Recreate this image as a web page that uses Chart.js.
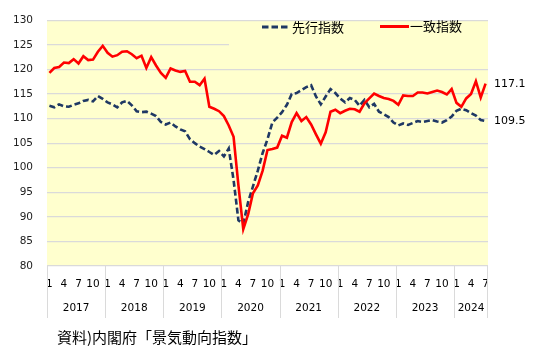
<!DOCTYPE html>
<html><head><meta charset="utf-8">
<script src="https://cdn.jsdelivr.net/npm/chart.js@4"></script>
<style>
html,body{margin:0;padding:0;background:#fff;}
#wrap{position:relative;width:534px;height:356px;}
#src{position:absolute;left:57px;top:327px;font-family:"Noto Sans CJK JP";font-size:15px;line-height:20px;color:#000;white-space:nowrap;}
</style></head><body>
<div id="wrap"><canvas id="c" width="534" height="356"></canvas><div id="src">資料)内閣府「景気動向指数」</div></div>
<script>
// ---- data ----
const years = ['2017','2018','2019','2020','2021','2022','2023','2024'];
const monthsInYear = [12,12,12,12,12,12,12,7];
const tickMonths = ['1','4','7','10'];
const seriesNames = ['先行指数','一致指数'];

const leading = [
  112.6,112.3,112.9,112.5,112.4,112.8,113.1,113.6,113.8,113.5,114.6,114.0,
  113.3,112.9,112.3,113.3,113.6,112.7,111.5,111.3,111.4,111.0,110.5,109.3,
  108.8,109.2,108.4,107.8,107.4,105.8,105.0,104.3,103.8,103.2,102.6,103.4,
  102.3,103.9,97.5,89.3,88.6,93.0,96.2,99.4,103.0,105.8,109.2,110.2,
  111.3,112.8,115.0,115.2,115.8,116.4,116.8,114.5,112.9,114.5,116.0,115.2,
  114.1,113.3,114.2,113.8,112.6,113.8,112.3,113.0,111.4,110.9,110.3,109.2,
  108.6,109.0,108.7,109.1,109.5,109.3,109.5,109.7,109.4,109.2,109.7,110.4,
  111.6,112.0,111.7,111.1,110.6,109.7,109.5
];
const coincident = [
  119.3,120.3,120.5,121.4,121.3,122.1,121.2,122.7,121.9,122.0,123.6,124.8,
  123.4,122.6,122.9,123.6,123.7,123.1,122.3,122.8,120.3,122.5,120.8,119.3,
  118.3,120.2,119.8,119.5,119.7,117.5,117.5,116.8,118.1,112.4,112.0,111.5,
  110.5,108.6,106.3,96.4,87.5,90.5,94.8,96.4,99.4,103.6,103.8,104.1,
  106.5,106.1,109.3,111.1,109.5,110.3,108.8,106.8,104.9,107.2,111.4,111.8,
  111.1,111.6,112.0,111.9,111.4,113.1,114.1,115.1,114.6,114.2,114.0,113.6,
  112.8,114.7,114.6,114.6,115.3,115.3,115.1,115.4,115.7,115.4,114.9,116.0,
  113.2,112.4,114.1,115.0,117.6,114.3,117.1
];

// ---- categories ----
const categories = [];
const monthOf = [];
years.forEach((y, yi) => {
  for (let m = 1; m <= monthsInYear[yi]; m++) { categories.push(y + '/' + m); monthOf.push(String(m)); }
});

const NAVY = '#1F3864', RED = '#FF0000', BG = '#FFFFCE', GRID = '#DADADA';
const tickFont = {family: 'DejaVu Sans', size: 10.5};

const plugins = [{
  id: 'bg',
  beforeDraw(chart) {
    const {ctx, chartArea: a} = chart;
    ctx.save(); ctx.fillStyle = BG; ctx.fillRect(a.left, a.top, a.right - a.left, a.bottom - a.top); ctx.restore();
  },
  beforeDatasetsDraw(chart) {
    const {ctx, chartArea: a} = chart;
    ctx.save();
    ctx.fillStyle = BG;
    ctx.fillRect(229, a.top + 1.5, a.right - 229, 27);
    // legend
    ctx.lineWidth = 3;
    ctx.strokeStyle = NAVY; ctx.setLineDash([6.5, 3]);
    ctx.beginPath(); ctx.moveTo(262, 27); ctx.lineTo(289, 27); ctx.stroke();
    ctx.setLineDash([]);
    ctx.strokeStyle = RED;
    ctx.beginPath(); ctx.moveTo(380, 26.5); ctx.lineTo(409, 26.5); ctx.stroke();
    ctx.fillStyle = '#000'; ctx.font = '13px "Noto Sans CJK JP"'; ctx.textBaseline = 'middle'; ctx.textAlign = 'left';
    ctx.fillText(seriesNames[0], 292, 27);
    ctx.fillText(seriesNames[1], 410, 26.5);
    ctx.restore();
  },
  afterDatasetsDraw(chart) {
    const {ctx} = chart;
    ctx.save();
    ctx.fillStyle = '#000'; ctx.font = '11px "DejaVu Sans"'; ctx.textBaseline = 'middle'; ctx.textAlign = 'left';
    chart.data.datasets.forEach((ds, i) => {
      const meta = chart.getDatasetMeta(i);
      const p = meta.data[meta.data.length - 1];
      ctx.fillText(ds.data[ds.data.length - 1].toFixed(1), p.x + 8.5, p.y + 0.5);
    });
    ctx.restore();
  },
  afterDraw(chart) {
    const {ctx, chartArea: a} = chart;
    const xs = chart.scales.x;
    const half = (xs.getPixelForValue(1) - xs.getPixelForValue(0)) / 2;
    ctx.save();
    ctx.strokeStyle = GRID; ctx.lineWidth = 1;
    ctx.fillStyle = '#000'; ctx.font = '10.5px "DejaVu Sans"'; ctx.textAlign = 'center'; ctx.textBaseline = 'middle';
    let idx = 0;
    years.forEach((y, yi) => {
      const x0 = xs.getPixelForValue(idx) - half;
      const x1 = xs.getPixelForValue(idx + monthsInYear[yi] - 1) + half;
      ctx.beginPath(); ctx.moveTo(Math.round(x0) + 0.5, a.bottom); ctx.lineTo(Math.round(x0) + 0.5, 318); ctx.stroke();
      if (yi === years.length - 1) { ctx.beginPath(); ctx.moveTo(Math.round(x1) - 0.5, a.bottom); ctx.lineTo(Math.round(x1) - 0.5, 318); ctx.stroke(); }
      ctx.fillText(y, (x0 + x1) / 2, 308);
      idx += monthsInYear[yi];
    });
    ctx.restore();
  }
}];

new Chart(document.getElementById('c'), {
  type: 'line',
  data: {
    labels: categories,
    datasets: [
      {label: seriesNames[0], data: leading, borderColor: NAVY, borderWidth: 2.6, borderDash: [6, 3], pointRadius: 0, tension: 0, order: 1},
      {label: seriesNames[1], data: coincident, borderColor: RED, borderWidth: 2.6, pointRadius: 0, tension: 0, order: 0}
    ]
  },
  options: {
    responsive: false, devicePixelRatio: 1, animation: false,
    layout: {padding: {left: 0, right: 46, top: 12, bottom: 0}},
    plugins: {legend: {display: false}, tooltip: {enabled: false}},
    scales: {
      x: {
        type: 'category', offset: true,
        grid: {display: false, drawTicks: false},
        border: {display: false},
        ticks: {autoSkip: false, maxRotation: 0, minRotation: 0, padding: 12, color: '#000', font: tickFont,
          callback: (v, i) => tickMonths.includes(monthOf[i]) ? monthOf[i] : ''},
        afterFit: s => { s.height = 90; }
      },
      y: {
        min: 80, max: 130,
        grid: {color: GRID, lineWidth: 1.2, drawTicks: false},
        border: {display: false},
        ticks: {stepSize: 5, padding: 14, color: '#222', font: tickFont},
        afterFit: s => { s.height; s.width = 47; }
      }
    }
  },
  plugins
});
</script>
</body></html>
